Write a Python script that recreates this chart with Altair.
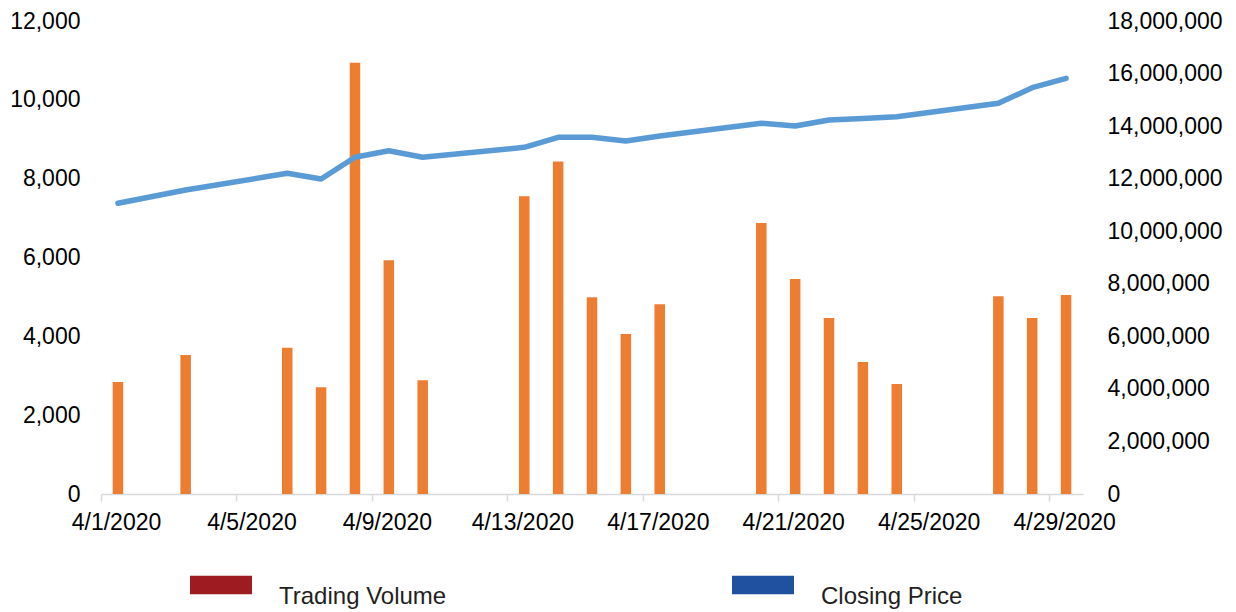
import altair as alt
import pandas as pd

dates = ["4/1/2020", "4/3/2020", "4/6/2020", "4/7/2020", "4/8/2020", "4/9/2020", "4/10/2020",
         "4/13/2020", "4/14/2020", "4/15/2020", "4/16/2020", "4/17/2020",
         "4/20/2020", "4/21/2020", "4/22/2020", "4/23/2020", "4/24/2020",
         "4/27/2020", "4/28/2020", "4/29/2020"]
volume = [4260000, 5290000, 5570000, 4060000, 16410000, 8900000, 4330000,
          11330000, 12650000, 7490000, 6090000, 7220000,
          10310000, 8180000, 6700000, 5020000, 4190000,
          7530000, 6700000, 7570000]
price = [7375, 7712, 8136, 7991, 8542, 8710, 8542,
         8796, 9049, 9049, 8955, 9082,
         9405, 9336, 9488, 9526, 9572,
         9912, 10308, 10546]
tick_days = [1, 5, 9, 13, 17, 21, 25, 29]
left_ticks = [0, 2000, 4000, 6000, 8000, 10000, 12000]
right_ticks = [0, 2000000, 4000000, 6000000, 8000000, 10000000, 12000000, 14000000, 16000000, 18000000]
series = ["Trading Volume", "Closing Price"]
legend_colors = ["#9E1C21", "#2050A0"]

df = pd.DataFrame({"date": dates, "volume": volume, "price": price})
legend_df = pd.DataFrame({"series": series})

base = alt.Chart(df).transform_calculate(
    pos="toNumber(split(datum.date, '/')[1]) + 0.5"
)

x_enc = alt.X(
    "pos:Q",
    scale=alt.Scale(domain=[1, 30], nice=False, zero=False, padding=0),
    axis=alt.Axis(
        values=tick_days,
        labelExpr="'4/' + datum.value + '/2020'",
        labelOffset=15,
        labelFlush=False,
        labelOverlap=False,
        title=None,
        grid=False,
        domainColor="#d9d9d9",
        domainWidth=1.5,
        tickColor="#d9d9d9",
        tickWidth=1.5,
        tickSize=7,
        labelPadding=10,
        labelFont="Liberation Sans",
        labelFontSize=23,
        labelColor="#000000",
    ),
)

bars = base.mark_bar(color="#ED7D31", size=10.5).encode(
    x=x_enc,
    y=alt.Y(
        "volume:Q",
        scale=alt.Scale(domain=[0, 18000000], nice=False),
        axis=alt.Axis(
            orient="right",
            values=right_ticks,
            format=",d",
            title=None,
            grid=False,
            domain=False,
            ticks=False,
            labelPadding=24,
            labelFont="Liberation Sans",
            labelFontSize=23,
            labelColor="#000000",
        ),
    ),
)

line = base.mark_line(color="#5B9BD5", strokeWidth=5.5, strokeCap="round", strokeJoin="round").encode(
    x=alt.X("pos:Q"),
    y=alt.Y(
        "price:Q",
        scale=alt.Scale(domain=[0, 12000], nice=False),
        axis=alt.Axis(
            orient="left",
            values=left_ticks,
            format=",d",
            title=None,
            grid=False,
            domain=False,
            ticks=False,
            labelPadding=21,
            labelFont="Liberation Sans",
            labelFontSize=23,
            labelColor="#000000",
        ),
    ),
)

legend_layer = alt.Chart(legend_df).mark_point(size=0, filled=True).encode(
    color=alt.Color(
        "series:N",
        scale=alt.Scale(domain=series, range=legend_colors),
        legend=alt.Legend(
            title=None,
            orient="none",
            legendX=89,
            legendY=533,
            direction="horizontal",
            padding=0,
            symbolType="M-1,-0.3H1V0.3H-1Z",
            symbolSize=3844,
            symbolStrokeWidth=0,
            symbolOpacity=1,
            labelOffset=27,
            labelLimit=400,
            labelFont="Liberation Sans",
            labelFontSize=24,
            labelColor="#231F20",
            labelBaseline="top",
            columnPadding=285,
        ),
    )
)

chart = alt.layer(bars, line, legend_layer).resolve_scale(
    y="independent", color="independent"
).properties(
    width=982,
    height=473,
    padding={"left": 93, "top": 13, "right": 145, "bottom": 115},
    autosize=alt.AutoSizeParams(type="none"),
).configure_view(stroke=None)

chart.save("out.html", embed_options={"renderer": "svg", "actions": False})
